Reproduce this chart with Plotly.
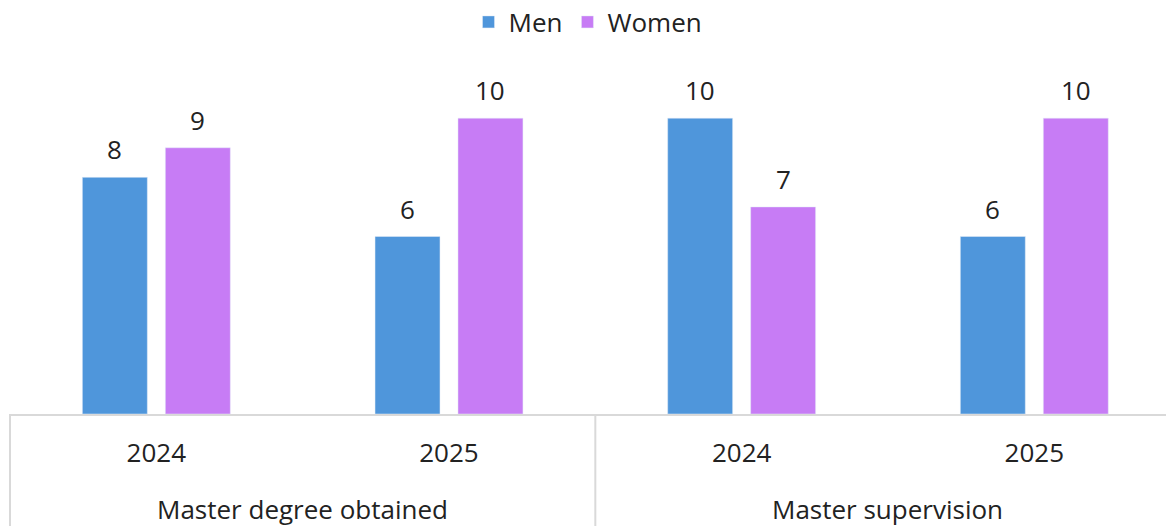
import plotly.graph_objects as go

positions = [0, 1, 2, 3]
years = ["2024", "2025", "2024", "2025"]
groups = ["Master degree obtained", "Master supervision"]
men = [8, 6, 10, 6]
women = [9, 10, 7, 10]

blue = "#4F96DB"
purple = "#C77CF5"
font = "Open Sans"
FS = 26

fig = go.Figure()
fig.add_trace(go.Bar(name="Men", x=positions, y=men, marker_color=blue))
fig.add_trace(go.Bar(name="Women", x=positions, y=women, marker_color=purple))

H = 355.0
fig.update_layout(
    width=1166, height=526,
    margin=dict(l=10, r=0, t=59, b=112, autoexpand=False),
    barmode="group", bargap=0.433, bargroupgap=0.217,
    plot_bgcolor="white", paper_bgcolor="white",
    font=dict(family=font, size=FS, color="#222"),
    legend=dict(orientation="h", x=0.5, xanchor="center", y=1 + 37 / H, yanchor="middle",
                font=dict(size=FS), traceorder="normal"),
    showlegend=True,
)
fig.update_xaxes(range=[-0.5, 3.45], tickvals=positions, ticktext=years,
                 showline=True, linecolor="#D9D9D9", linewidth=2, showgrid=False,
                 zeroline=False, ticks="", ticklabelstandoff=15,
                 tickfont=dict(size=FS, color="#222"))
fig.update_yaxes(range=[0, 12], visible=False)

# value labels above bars
for vals, shift in ((men, -41.5), (women, 41.5)):
    for x, v in zip(positions, vals):
        fig.add_annotation(text=str(v), x=x, y=v, xref="x", yref="y", xshift=shift,
                           yshift=28, yanchor="middle", showarrow=False,
                           font=dict(size=FS, color="#222"))

# group dividers
for x0, xr in ((0, "paper"), (1.5, "x"), (3.5, "x")):
    fig.add_shape(type="line", xref=xr, yref="paper", x0=x0, x1=x0, y0=0, y1=-112 / H,
                  line=dict(color="#D9D9D9", width=2))

for i, g in enumerate(groups):
    fig.add_annotation(text=g, x=2 * i + 0.5, xref="x", y=-95 / H, yref="paper",
                       yanchor="middle", showarrow=False, font=dict(size=FS, color="#222"))

fig.write_html("out.html", config={"displayModeBar": False},
               post_script="document.body.style.margin='0';document.body.style.padding='0';")
